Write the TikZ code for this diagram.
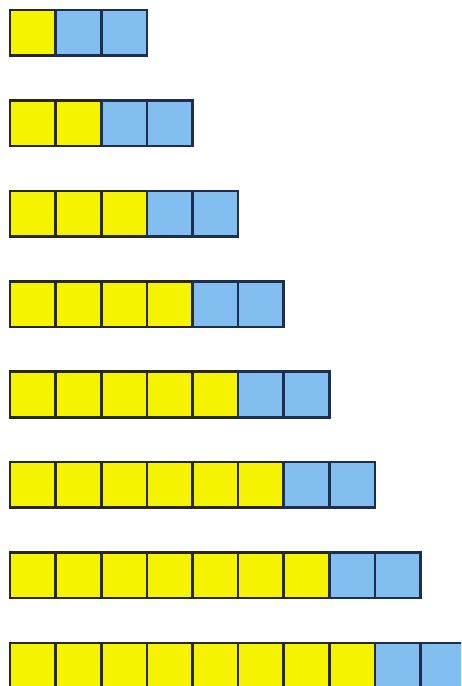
\documentclass[tikz,border=0pt]{standalone}
\definecolor{cellyellow}{RGB}{246,243,0}
\definecolor{cellblue}{RGB}{130,190,240}
\definecolor{edgeolive}{RGB}{40,40,22}
\definecolor{edgenavy}{RGB}{32,46,78}
\tikzset{
  yellowcell/.style={fill=cellyellow, draw=edgeolive, line width=2.6pt},
  bluecell/.style={fill=cellblue, draw=edgenavy, line width=2.6pt}
}
\begin{document}
\begin{tikzpicture}[x=1pt, y=-1pt]

  % -- Frame of the picture --
  \useasboundingbox (0,0) rectangle (461,686);
  \clip (0,0) rectangle (461,686);
  \fill[white] (0,0) rectangle (461,686);

  % -- Rows: n yellow cells, then two blue cells --
  \foreach \row in {1,...,8} {
    \pgfmathsetmacro{\rowtop}{10+90.4*(\row-1)}
    \foreach \col in {1,...,\row}
      \draw[yellowcell] ({10+45.6*(\col-1)},\rowtop) rectangle ++(45.6,45.6);
    \foreach \extra in {0,1}
      \draw[bluecell] ({10+45.6*(\row+\extra)},\rowtop) rectangle ++(45.6,45.6);
  }

\end{tikzpicture}
\end{document}
